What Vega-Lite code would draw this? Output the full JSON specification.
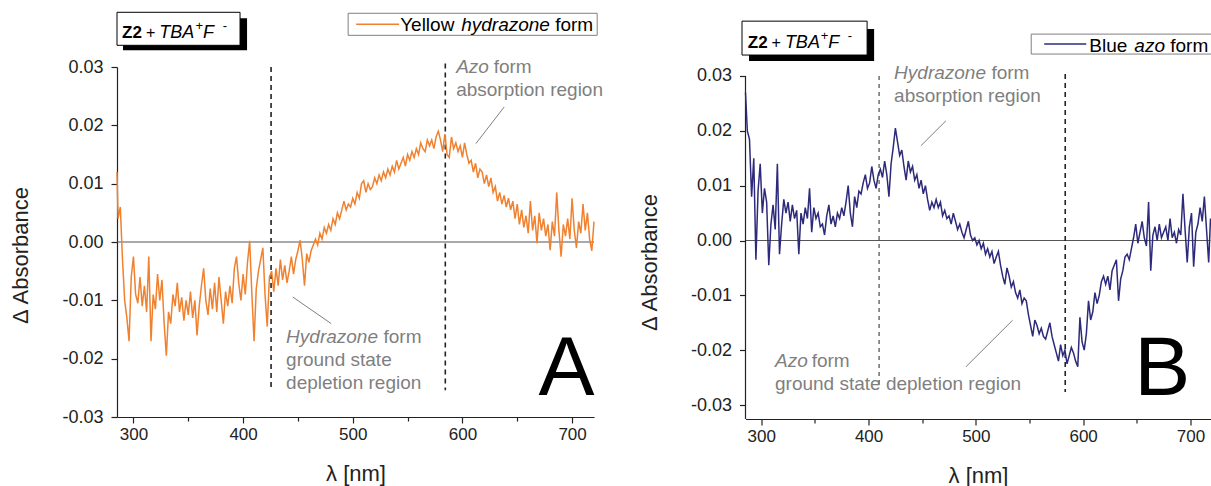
{
  "$schema": "https://vega.github.io/schema/vega-lite/v6.json",
  "background": "white",
  "padding": {"left": 9, "top": 11, "right": 0, "bottom": 0},
  "spacing": 151.5,
  "bounds": "flush",
  "config": {
    "view": {"stroke": null},
    "font": "Liberation Sans",
    "axis": {
      "grid": false,
      "labelFont": "Liberation Sans",
      "labelFontSize": 17,
      "labelColor": "#222222",
      "labelOverlap": false,
      "labelFlush": false,
      "titleFont": "Liberation Sans",
      "titleFontSize": 22,
      "titleFontWeight": "normal",
      "titleColor": "#222222",
      "domainColor": "#222222",
      "domainWidth": 1.2,
      "tickColor": "#222222",
      "tickWidth": 1.2
    }
  },
  "datasets": {
    "hydrazone": [
      {"wl":285,"dA":0.012},{"wl":286,"dA":0.004},{"wl":288,"dA":0.006},{"wl":290,"dA":-0.003},{"wl":292,"dA":-0.010},{"wl":294,"dA":-0.013},{"wl":296,"dA":-0.017},{"wl":298,"dA":-0.006},
      {"wl":300,"dA":-0.0025},{"wl":302,"dA":-0.009},{"wl":304,"dA":-0.0105},{"wl":306,"dA":-0.006},{"wl":308,"dA":-0.011},{"wl":310,"dA":-0.0075},{"wl":312,"dA":-0.012},{"wl":314,"dA":-0.0025},
      {"wl":316,"dA":-0.017},{"wl":318,"dA":-0.009},{"wl":320,"dA":-0.0115},{"wl":322,"dA":-0.0055},{"wl":324,"dA":-0.010},{"wl":326,"dA":-0.0065},{"wl":328,"dA":-0.014},{"wl":330,"dA":-0.0195},
      {"wl":332,"dA":-0.012},{"wl":334,"dA":-0.014},{"wl":336,"dA":-0.009},{"wl":338,"dA":-0.011},{"wl":340,"dA":-0.007},{"wl":342,"dA":-0.012},{"wl":344,"dA":-0.0095},{"wl":346,"dA":-0.0135},
      {"wl":348,"dA":-0.010},{"wl":350,"dA":-0.0125},{"wl":352,"dA":-0.0085},{"wl":354,"dA":-0.013},{"wl":356,"dA":-0.010},{"wl":358,"dA":-0.016},{"wl":360,"dA":-0.011},{"wl":362,"dA":-0.0075},
      {"wl":364,"dA":-0.0045},{"wl":366,"dA":-0.010},{"wl":368,"dA":-0.0125},{"wl":370,"dA":-0.008},{"wl":372,"dA":-0.0115},{"wl":374,"dA":-0.007},{"wl":376,"dA":-0.012},{"wl":378,"dA":-0.006},
      {"wl":380,"dA":-0.010},{"wl":382,"dA":-0.014},{"wl":384,"dA":-0.0085},{"wl":386,"dA":-0.011},{"wl":388,"dA":-0.0075},{"wl":390,"dA":-0.0105},{"wl":392,"dA":-0.0045},{"wl":394,"dA":-0.0025},
      {"wl":396,"dA":-0.007},{"wl":398,"dA":-0.010},{"wl":400,"dA":-0.0055},{"wl":402,"dA":-0.009},{"wl":404,"dA":-0.0035},{"wl":406,"dA":0.0002},{"wl":408,"dA":-0.009},{"wl":410,"dA":-0.017},
      {"wl":412,"dA":-0.008},{"wl":414,"dA":-0.005},{"wl":416,"dA":-0.003},{"wl":418,"dA":-0.001},{"wl":420,"dA":-0.009},{"wl":422,"dA":-0.0145},{"wl":424,"dA":-0.006},{"wl":426,"dA":-0.005},
      {"wl":428,"dA":-0.0085},{"wl":430,"dA":-0.0045},{"wl":432,"dA":-0.0075},{"wl":434,"dA":-0.003},{"wl":436,"dA":-0.0065},{"wl":438,"dA":-0.004},{"wl":440,"dA":-0.007},{"wl":442,"dA":-0.005},
      {"wl":444,"dA":-0.0025},{"wl":446,"dA":-0.0055},{"wl":448,"dA":-0.003},{"wl":450,"dA":-0.0015},{"wl":452,"dA":0.0003},{"wl":454,"dA":-0.003},{"wl":456,"dA":-0.0075},{"wl":458,"dA":-0.002},
      {"wl":460,"dA":-0.0035},{"wl":462,"dA":-0.0015},{"wl":464,"dA":-0.0005},{"wl":466,"dA":0.0005},{"wl":468,"dA":-0.0005},{"wl":470,"dA":0.0015},{"wl":472,"dA":0.0005},{"wl":474,"dA":0.0025},
      {"wl":476,"dA":0.0015},{"wl":478,"dA":0.003},{"wl":480,"dA":0.002},{"wl":482,"dA":0.004},{"wl":484,"dA":0.003},{"wl":486,"dA":0.005},{"wl":488,"dA":0.004},{"wl":490,"dA":0.0055},
      {"wl":492,"dA":0.007},{"wl":494,"dA":0.0055},{"wl":496,"dA":0.0065},{"wl":498,"dA":0.006},{"wl":500,"dA":0.0075},{"wl":502,"dA":0.0065},{"wl":504,"dA":0.0085},{"wl":506,"dA":0.0075},
      {"wl":508,"dA":0.010},{"wl":510,"dA":0.0105},{"wl":512,"dA":0.0085},{"wl":514,"dA":0.010},{"wl":516,"dA":0.009},{"wl":518,"dA":0.0095},{"wl":520,"dA":0.011},{"wl":522,"dA":0.010},
      {"wl":524,"dA":0.0115},{"wl":526,"dA":0.0105},{"wl":528,"dA":0.012},{"wl":530,"dA":0.011},{"wl":532,"dA":0.0125},{"wl":534,"dA":0.0115},{"wl":536,"dA":0.013},{"wl":538,"dA":0.012},
      {"wl":540,"dA":0.014},{"wl":542,"dA":0.0125},{"wl":544,"dA":0.0135},{"wl":546,"dA":0.0145},{"wl":548,"dA":0.013},{"wl":550,"dA":0.015},{"wl":552,"dA":0.014},{"wl":554,"dA":0.0155},
      {"wl":556,"dA":0.0145},{"wl":558,"dA":0.016},{"wl":560,"dA":0.015},{"wl":562,"dA":0.017},{"wl":564,"dA":0.016},{"wl":566,"dA":0.0155},{"wl":568,"dA":0.0175},{"wl":570,"dA":0.0165},
      {"wl":572,"dA":0.0175},{"wl":574,"dA":0.016},{"wl":576,"dA":0.018},{"wl":578,"dA":0.019},{"wl":580,"dA":0.0175},{"wl":582,"dA":0.0155},{"wl":584,"dA":0.0185},{"wl":586,"dA":0.015},
      {"wl":588,"dA":0.0145},{"wl":590,"dA":0.018},{"wl":592,"dA":0.016},{"wl":594,"dA":0.017},{"wl":596,"dA":0.0155},{"wl":598,"dA":0.0165},{"wl":600,"dA":0.0145},{"wl":602,"dA":0.017},
      {"wl":604,"dA":0.015},{"wl":606,"dA":0.0135},{"wl":608,"dA":0.014},{"wl":610,"dA":0.012},{"wl":612,"dA":0.0135},{"wl":614,"dA":0.011},{"wl":616,"dA":0.0125},{"wl":618,"dA":0.012},
      {"wl":620,"dA":0.010},{"wl":622,"dA":0.0115},{"wl":624,"dA":0.0095},{"wl":626,"dA":0.011},{"wl":628,"dA":0.0085},{"wl":630,"dA":0.0095},{"wl":632,"dA":0.007},{"wl":634,"dA":0.0085},
      {"wl":636,"dA":0.0065},{"wl":638,"dA":0.008},{"wl":640,"dA":0.006},{"wl":642,"dA":0.0075},{"wl":644,"dA":0.0055},{"wl":646,"dA":0.007},{"wl":648,"dA":0.004},{"wl":650,"dA":0.0065},
      {"wl":652,"dA":0.003},{"wl":654,"dA":0.0055},{"wl":656,"dA":0.0025},{"wl":658,"dA":0.0045},{"wl":660,"dA":0.0015},{"wl":662,"dA":0.007},{"wl":664,"dA":0.002},{"wl":666,"dA":0.0045},
      {"wl":668,"dA":-0.0002},{"wl":670,"dA":0.005},{"wl":672,"dA":0.002},{"wl":674,"dA":0.004},{"wl":676,"dA":0.001},{"wl":678,"dA":0.003},{"wl":680,"dA":-0.0014},{"wl":682,"dA":0.0035},
      {"wl":684,"dA":0.001},{"wl":686,"dA":0.0085},{"wl":688,"dA":0.002},{"wl":690,"dA":-0.0025},{"wl":692,"dA":0.003},{"wl":694,"dA":0.001},{"wl":696,"dA":0.004},{"wl":698,"dA":0.0005},
      {"wl":700,"dA":0.0075},{"wl":702,"dA":0.002},{"wl":704,"dA":-0.001},{"wl":706,"dA":0.0035},{"wl":708,"dA":0.0015},{"wl":710,"dA":0.0065},{"wl":712,"dA":0.002},{"wl":714,"dA":0.005},
      {"wl":716,"dA":0.0005},{"wl":718,"dA":-0.0015},{"wl":720,"dA":0.0035}
    ],
    "azo": [
      {"wl":285.3,"dA":0.027},{"wl":287,"dA":0.020},{"wl":289,"dA":0.0185},{"wl":291,"dA":0.008},{"wl":293,"dA":0.015},{"wl":295,"dA":-0.0035},{"wl":297,"dA":0.009},{"wl":299,"dA":0.014},
      {"wl":301,"dA":0.005},{"wl":303,"dA":0.0095},{"wl":305,"dA":0.007},{"wl":307,"dA":-0.0045},{"wl":309,"dA":0.003},{"wl":311,"dA":0.0065},{"wl":313,"dA":0.002},{"wl":315,"dA":0.014},
      {"wl":317,"dA":-0.0025},{"wl":319,"dA":0.003},{"wl":321,"dA":0.0075},{"wl":323,"dA":0.005},{"wl":325,"dA":0.007},{"wl":327,"dA":0.0035},{"wl":329,"dA":0.0065},{"wl":331,"dA":0.004},
      {"wl":333,"dA":0.0055},{"wl":335,"dA":-0.0025},{"wl":337,"dA":0.005},{"wl":339,"dA":0.003},{"wl":341,"dA":0.006},{"wl":343,"dA":0.004},{"wl":345,"dA":0.0095},{"wl":347,"dA":0.0015},
      {"wl":349,"dA":0.006},{"wl":351,"dA":0.004},{"wl":353,"dA":0.005},{"wl":355,"dA":0.0025},{"wl":357,"dA":0.003},{"wl":359,"dA":0.001},{"wl":361,"dA":0.0045},{"wl":363,"dA":0.0065},
      {"wl":365,"dA":0.003},{"wl":367,"dA":0.0045},{"wl":369,"dA":0.0025},{"wl":371,"dA":0.005},{"wl":373,"dA":0.004},{"wl":375,"dA":0.006},{"wl":377,"dA":0.0045},{"wl":379,"dA":0.007},
      {"wl":381,"dA":0.010},{"wl":383,"dA":0.005},{"wl":385,"dA":0.0025},{"wl":387,"dA":0.008},{"wl":389,"dA":0.006},{"wl":391,"dA":0.009},{"wl":393,"dA":0.0085},{"wl":395,"dA":0.0105},
      {"wl":397,"dA":0.012},{"wl":399,"dA":0.0095},{"wl":401,"dA":0.0105},{"wl":403,"dA":0.0135},{"wl":405,"dA":0.011},{"wl":407,"dA":0.0095},{"wl":409,"dA":0.012},{"wl":411,"dA":0.013},
      {"wl":413,"dA":0.0115},{"wl":415,"dA":0.0145},{"wl":417,"dA":0.012},{"wl":419,"dA":0.008},{"wl":421,"dA":0.014},{"wl":423,"dA":0.017},{"wl":425,"dA":0.0205},{"wl":427,"dA":0.018},
      {"wl":429,"dA":0.0155},{"wl":431,"dA":0.0165},{"wl":433,"dA":0.0135},{"wl":435,"dA":0.011},{"wl":437,"dA":0.0145},{"wl":439,"dA":0.0125},{"wl":441,"dA":0.0135},{"wl":443,"dA":0.011},
      {"wl":445,"dA":0.012},{"wl":447,"dA":0.0095},{"wl":449,"dA":0.011},{"wl":451,"dA":0.0085},{"wl":453,"dA":0.010},{"wl":455,"dA":0.0075},{"wl":457,"dA":0.0055},{"wl":459,"dA":0.007},
      {"wl":461,"dA":0.006},{"wl":463,"dA":0.0075},{"wl":465,"dA":0.006},{"wl":467,"dA":0.007},{"wl":469,"dA":0.0045},{"wl":471,"dA":0.0055},{"wl":473,"dA":0.004},{"wl":475,"dA":0.0045},
      {"wl":477,"dA":0.003},{"wl":479,"dA":0.005},{"wl":481,"dA":0.0035},{"wl":483,"dA":0.002},{"wl":485,"dA":0.003},{"wl":487,"dA":0.0015},{"wl":489,"dA":0.0005},{"wl":491,"dA":0.002},
      {"wl":493,"dA":0.0035},{"wl":495,"dA":0.001},{"wl":497,"dA":0.0},{"wl":499,"dA":0.0005},{"wl":501,"dA":-0.0008},{"wl":503,"dA":0.0},{"wl":505,"dA":-0.0015},{"wl":507,"dA":-0.0005},
      {"wl":509,"dA":-0.0025},{"wl":511,"dA":-0.0015},{"wl":513,"dA":-0.003},{"wl":515,"dA":-0.002},{"wl":517,"dA":-0.0042},{"wl":519,"dA":-0.003},{"wl":521,"dA":-0.002},{"wl":523,"dA":-0.0045},
      {"wl":525,"dA":-0.0065},{"wl":527,"dA":-0.008},{"wl":529,"dA":-0.005},{"wl":531,"dA":-0.0065},{"wl":533,"dA":-0.0085},{"wl":535,"dA":-0.0075},{"wl":537,"dA":-0.0095},{"wl":539,"dA":-0.0105},
      {"wl":541,"dA":-0.009},{"wl":543,"dA":-0.0115},{"wl":545,"dA":-0.0105},{"wl":547,"dA":-0.011},{"wl":549,"dA":-0.0135},{"wl":551,"dA":-0.0155},{"wl":553,"dA":-0.0175},{"wl":555,"dA":-0.0145},
      {"wl":557,"dA":-0.0155},{"wl":559,"dA":-0.017},{"wl":561,"dA":-0.016},{"wl":563,"dA":-0.0175},{"wl":565,"dA":-0.018},{"wl":567,"dA":-0.0165},{"wl":569,"dA":-0.015},{"wl":571,"dA":-0.0175},
      {"wl":573,"dA":-0.019},{"wl":575,"dA":-0.0205},{"wl":577,"dA":-0.022},{"wl":579,"dA":-0.019},{"wl":581,"dA":-0.021},{"wl":583,"dA":-0.020},{"wl":585,"dA":-0.0225},{"wl":587,"dA":-0.021},
      {"wl":589,"dA":-0.0195},{"wl":591,"dA":-0.0205},{"wl":593,"dA":-0.022},{"wl":595,"dA":-0.023},{"wl":597,"dA":-0.014},{"wl":599,"dA":-0.0185},{"wl":601,"dA":-0.020},{"wl":603,"dA":-0.017},
      {"wl":605,"dA":-0.011},{"wl":607,"dA":-0.0145},{"wl":609,"dA":-0.013},{"wl":611,"dA":-0.0095},{"wl":613,"dA":-0.0115},{"wl":615,"dA":-0.010},{"wl":617,"dA":-0.0075},{"wl":619,"dA":-0.0065},
      {"wl":621,"dA":-0.008},{"wl":623,"dA":-0.0065},{"wl":625,"dA":-0.009},{"wl":627,"dA":-0.0055},{"wl":629,"dA":-0.0045},{"wl":631,"dA":-0.0035},{"wl":633,"dA":-0.011},{"wl":635,"dA":-0.007},
      {"wl":637,"dA":-0.0055},{"wl":639,"dA":-0.003},{"wl":641,"dA":-0.0025},{"wl":643,"dA":-0.0035},{"wl":645,"dA":-0.0015},{"wl":647,"dA":0.0005},{"wl":649,"dA":0.003},{"wl":651,"dA":-0.0005},
      {"wl":653,"dA":0.0015},{"wl":655,"dA":0.0035},{"wl":657,"dA":0.0005},{"wl":659,"dA":-0.001},{"wl":661,"dA":0.007},{"wl":663,"dA":-0.0055},{"wl":665,"dA":0.001},{"wl":667,"dA":0.0025},
      {"wl":669,"dA":0.0},{"wl":671,"dA":0.003},{"wl":673,"dA":0.0005},{"wl":675,"dA":0.0015},{"wl":677,"dA":0.0025},{"wl":679,"dA":0.0},{"wl":681,"dA":0.004},{"wl":683,"dA":0.0005},
      {"wl":685,"dA":0.0015},{"wl":687,"dA":-0.0005},{"wl":689,"dA":0.002},{"wl":691,"dA":0.001},{"wl":693,"dA":0.0085},{"wl":695,"dA":0.002},{"wl":697,"dA":-0.004},{"wl":699,"dA":0.0025},
      {"wl":701,"dA":0.005},{"wl":703,"dA":-0.0048},{"wl":705,"dA":0.0015},{"wl":707,"dA":0.003},{"wl":709,"dA":0.006},{"wl":711,"dA":0.0035},{"wl":713,"dA":0.008},{"wl":715,"dA":0.002},
      {"wl":717,"dA":-0.004},{"wl":718.7,"dA":0.004}
    ]
  },
  "hconcat": [
    {
      "width": 477,
      "height": 350,
      "data": {"values": [{}]},
      "layer": [
        {
          "mark": {"type": "rule", "color": "#555555", "strokeWidth": 1},
          "encoding": {"y": {"datum": 0}}
        },
        {
          "mark": {"type": "rule", "color": "#222222", "strokeWidth": 1.6, "strokeDash": [5, 4]},
          "encoding": {"x": {"datum": 425.5}, "y": {"datum": 0.03}, "y2": {"datum": -0.0254}}
        },
        {
          "mark": {"type": "rule", "color": "#222222", "strokeWidth": 1.6, "strokeDash": [5, 4]},
          "encoding": {"x": {"datum": 584.4}, "y": {"datum": 0.0306}, "y2": {"datum": -0.0254}}
        },
        {
          "data": {"name": "hydrazone"},
          "mark": {"type": "line", "color": "#F0812F", "strokeWidth": 1.5, "interpolate": "linear"},
          "encoding": {
            "x": {
              "field": "wl", "type": "quantitative",
              "scale": {"domain": [285, 720], "nice": false, "zero": false},
              "axis": {
                "title": "λ [nm]", "values": [300, 350, 400, 450, 500, 550, 600, 650, 700],
                "labelExpr": "datum.value % 100 === 0 ? datum.label : ''",
                "tickSize": {"condition": {"test": "datum.value % 100 === 0", "value": 6}, "value": 4},
                "labelPadding": 3, "titlePadding": 21
              }
            },
            "y": {
              "field": "dA", "type": "quantitative",
              "scale": {"domain": [-0.03, 0.03], "nice": false, "zero": false},
              "axis": {
                "title": "Δ Absorbance", "titleY": 188, "labelFontSize": 18,
                "values": [-0.03, -0.025, -0.02, -0.015, -0.01, -0.005, 0, 0.005, 0.01, 0.015, 0.02, 0.025, 0.03],
                "labelExpr": "round(datum.value * 1000) % 10 === 0 ? replace(format(datum.value, '.2f'), '\u2212', '-') : ''",
                "tickSize": {"condition": {"test": "round(datum.value * 1000) % 10 === 0", "value": 6}, "value": 3},
                "labelPadding": 8, "titlePadding": 29
              }
            }
          }
        },
        {
          "mark": {"type": "rule", "color": "#7F7F7F", "strokeWidth": 1},
          "encoding": {"x": {"datum": 638.1}, "x2": {"datum": 612.3}, "y": {"datum": 0.02315}, "y2": {"datum": 0.01687}}
        },
        {
          "mark": {"type": "rule", "color": "#7F7F7F", "strokeWidth": 1},
          "encoding": {"x": {"datum": 445.3}, "x2": {"datum": 480.3}, "y": {"datum": -0.00943}, "y2": {"datum": -0.01399}}
        },
        {
          "mark": {"type": "rect", "color": "#000000"},
          "encoding": {"x": {"datum": 290.5}, "x2": {"datum": 403.6}, "y": {"datum": 0.03835}, "y2": {"datum": 0.03287}}
        },
        {
          "mark": {"type": "rect", "fill": "#FFFFFF", "stroke": "#000000", "strokeWidth": 1},
          "encoding": {"x": {"datum": 285}, "x2": {"datum": 397.2}, "y": {"datum": 0.03938}, "y2": {"datum": 0.03372}}
        },
        {
          "mark": {"type": "text", "text": "Z2", "fontSize": 17, "fontWeight": "bold", "color": "#000000", "align": "left", "baseline": "alphabetic"},
          "encoding": {"x": {"datum": 289.6}, "y": {"datum": 0.03492}}
        },
        {
          "mark": {"type": "text", "text": "+", "fontSize": 16, "color": "#000000", "align": "left", "baseline": "alphabetic"},
          "encoding": {"x": {"datum": 311.5}, "y": {"datum": 0.03492}}
        },
        {
          "mark": {"type": "text", "text": "TBA", "fontSize": 18, "fontStyle": "italic", "color": "#000000", "align": "left", "baseline": "alphabetic"},
          "encoding": {"x": {"datum": 323.5}, "y": {"datum": 0.03492}}
        },
        {
          "mark": {"type": "text", "text": "+", "fontSize": 13, "color": "#000000", "align": "left", "baseline": "alphabetic"},
          "encoding": {"x": {"datum": 356.5}, "y": {"datum": 0.03629}}
        },
        {
          "mark": {"type": "text", "text": "F", "fontSize": 18, "fontStyle": "italic", "color": "#000000", "align": "left", "baseline": "alphabetic"},
          "encoding": {"x": {"datum": 363.5}, "y": {"datum": 0.03492}}
        },
        {
          "mark": {"type": "text", "text": "-", "fontSize": 13, "color": "#000000", "align": "left", "baseline": "alphabetic"},
          "encoding": {"x": {"datum": 381.5}, "y": {"datum": 0.03629}}
        },
        {
          "mark": {"type": "rect", "fill": "#FFFFFF", "stroke": "#808080", "strokeWidth": 1},
          "encoding": {"x": {"datum": 495.8}, "x2": {"datum": 722.9}, "y": {"datum": 0.03921}, "y2": {"datum": 0.03543}}
        },
        {
          "mark": {"type": "rule", "color": "#F0812F", "strokeWidth": 1.5},
          "encoding": {"x": {"datum": 503.1}, "x2": {"datum": 542.3}, "y": {"datum": 0.03732}}
        },
        {
          "mark": {"type": "text", "text": "Yellow", "fontSize": 19, "color": "#000000", "align": "left", "baseline": "alphabetic"},
          "encoding": {"x": {"datum": 543.2}, "y": {"datum": 0.03612}}
        },
        {
          "mark": {"type": "text", "text": "hydrazone", "fontSize": 19, "fontStyle": "italic", "color": "#000000", "align": "left", "baseline": "alphabetic"},
          "encoding": {"x": {"datum": 598.9}, "y": {"datum": 0.03612}}
        },
        {
          "mark": {"type": "text", "text": "form", "fontSize": 19, "color": "#000000", "align": "left", "baseline": "alphabetic"},
          "encoding": {"x": {"datum": 684.6}, "y": {"datum": 0.03612}}
        },
        {
          "mark": {"type": "text", "text": "Azo", "fontSize": 19, "fontStyle": "italic", "color": "#7F7F7F", "align": "left", "baseline": "alphabetic"},
          "encoding": {"x": {"datum": 594.3}, "y": {"datum": 0.02892}}
        },
        {
          "mark": {"type": "text", "text": "form", "fontSize": 19, "color": "#7F7F7F", "align": "left", "baseline": "alphabetic"},
          "encoding": {"x": {"datum": 628.5}, "y": {"datum": 0.02892}}
        },
        {
          "mark": {"type": "text", "text": "absorption region", "fontSize": 19, "color": "#7F7F7F", "align": "left", "baseline": "alphabetic"},
          "encoding": {"x": {"datum": 594.3}, "y": {"datum": 0.02498}}
        },
        {
          "mark": {"type": "text", "text": "Hydrazone", "fontSize": 19, "fontStyle": "italic", "color": "#7F7F7F", "align": "left", "baseline": "alphabetic"},
          "encoding": {"x": {"datum": 439.2}, "y": {"datum": -0.01737}}
        },
        {
          "mark": {"type": "text", "text": "form", "fontSize": 19, "color": "#7F7F7F", "align": "left", "baseline": "alphabetic"},
          "encoding": {"x": {"datum": 528.0}, "y": {"datum": -0.01737}}
        },
        {
          "mark": {"type": "text", "text": "ground state", "fontSize": 19, "color": "#7F7F7F", "align": "left", "baseline": "alphabetic"},
          "encoding": {"x": {"datum": 439.2}, "y": {"datum": -0.02131}}
        },
        {
          "mark": {"type": "text", "text": "depletion region", "fontSize": 19, "color": "#7F7F7F", "align": "left", "baseline": "alphabetic"},
          "encoding": {"x": {"datum": 439.2}, "y": {"datum": -0.02525}}
        },
        {
          "mark": {"type": "text", "text": "A", "fontSize": 84, "color": "#000000", "align": "center", "baseline": "alphabetic"},
          "encoding": {"x": {"datum": 695.0}, "y": {"datum": -0.02628}}
        }
      ]
    },
    {
      "width": 465,
      "height": 352,
      "data": {"values": [{}]},
      "layer": [
        {
          "mark": {"type": "rule", "color": "#555555", "strokeWidth": 1},
          "encoding": {"y": {"datum": 0}}
        },
        {
          "mark": {"type": "rule", "color": "#222222", "strokeWidth": 1.2},
          "encoding": {"x": {"datum": 285.3}, "y": {"datum": 0.03}, "y2": {"datum": -0.03255}}
        },
        {
          "mark": {"type": "rule", "color": "#222222", "strokeWidth": 1, "strokeDash": [4, 4]},
          "encoding": {"x": {"datum": 409.8}, "y": {"datum": 0.03}, "y2": {"datum": -0.02636}}
        },
        {
          "mark": {"type": "rule", "color": "#222222", "strokeWidth": 1.6, "strokeDash": [5, 4]},
          "encoding": {"x": {"datum": 583.3}, "y": {"datum": 0.03036}, "y2": {"datum": -0.02764}}
        },
        {
          "data": {"name": "azo"},
          "mark": {"type": "line", "color": "#2D2A7B", "strokeWidth": 1.5, "interpolate": "linear"},
          "encoding": {
            "x": {
              "field": "wl", "type": "quantitative",
              "scale": {"domain": [285.3, 718.7], "nice": false, "zero": false},
              "axis": {
                "title": "λ [nm]", "values": [300, 350, 400, 450, 500, 550, 600, 650, 700],
                "labelExpr": "datum.value % 100 === 0 ? datum.label : ''",
                "tickSize": {"condition": {"test": "datum.value % 100 === 0", "value": 6}, "value": 4},
                "labelPadding": 3, "titlePadding": 21
              }
            },
            "y": {
              "field": "dA", "type": "quantitative",
              "scale": {"domain": [-0.03255, 0.03164], "nice": false, "zero": false},
              "axis": {
                "title": "Δ Absorbance", "titleY": 195, "labelFontSize": 18, "domain": false,
                "values": [-0.03, -0.025, -0.02, -0.015, -0.01, -0.005, 0, 0.005, 0.01, 0.015, 0.02, 0.025, 0.03],
                "labelExpr": "round(datum.value * 1000) % 10 === 0 ? replace(format(datum.value, '.2f'), '\u2212', '-') : ''",
                "tickSize": {"condition": {"test": "round(datum.value * 1000) % 10 === 0", "value": 6}, "value": 3},
                "labelPadding": 8, "titlePadding": 29
              }
            }
          }
        },
        {
          "mark": {"type": "rule", "color": "#7F7F7F", "strokeWidth": 1},
          "encoding": {"x": {"datum": 472.05}, "x2": {"datum": 448.73}, "y": {"datum": 0.02182}, "y2": {"datum": 0.01727}}
        },
        {
          "mark": {"type": "rule", "color": "#7F7F7F", "strokeWidth": 1},
          "encoding": {"x": {"datum": 490.7}, "x2": {"datum": 534.2}, "y": {"datum": -0.02304}, "y2": {"datum": -0.01455}}
        },
        {
          "mark": {"type": "rect", "color": "#000000"},
          "encoding": {"x": {"datum": 288.56}, "x2": {"datum": 405.17}, "y": {"datum": 0.03855}, "y2": {"datum": 0.03273}}
        },
        {
          "mark": {"type": "rect", "fill": "#FFFFFF", "stroke": "#000000", "strokeWidth": 1},
          "encoding": {"x": {"datum": 282.04}, "x2": {"datum": 398.64}, "y": {"datum": 0.0400}, "y2": {"datum": 0.03382}}
        },
        {
          "mark": {"type": "text", "text": "Z2", "fontSize": 17, "fontWeight": "bold", "color": "#000000", "align": "left", "baseline": "alphabetic"},
          "encoding": {"x": {"datum": 287.5}, "y": {"datum": 0.03509}}
        },
        {
          "mark": {"type": "text", "text": "+", "fontSize": 16, "color": "#000000", "align": "left", "baseline": "alphabetic"},
          "encoding": {"x": {"datum": 309.5}, "y": {"datum": 0.03509}}
        },
        {
          "mark": {"type": "text", "text": "TBA", "fontSize": 18, "fontStyle": "italic", "color": "#000000", "align": "left", "baseline": "alphabetic"},
          "encoding": {"x": {"datum": 322.0}, "y": {"datum": 0.03509}}
        },
        {
          "mark": {"type": "text", "text": "+", "fontSize": 13, "color": "#000000", "align": "left", "baseline": "alphabetic"},
          "encoding": {"x": {"datum": 355.5}, "y": {"datum": 0.03655}}
        },
        {
          "mark": {"type": "text", "text": "F", "fontSize": 18, "fontStyle": "italic", "color": "#000000", "align": "left", "baseline": "alphabetic"},
          "encoding": {"x": {"datum": 362.5}, "y": {"datum": 0.03509}}
        },
        {
          "mark": {"type": "text", "text": "-", "fontSize": 13, "color": "#000000", "align": "left", "baseline": "alphabetic"},
          "encoding": {"x": {"datum": 380.5}, "y": {"datum": 0.03655}}
        },
        {
          "mark": {"type": "rect", "fill": "#FFFFFF", "stroke": "#808080", "strokeWidth": 1},
          "encoding": {"x": {"datum": 551.6}, "x2": {"datum": 724.0}, "y": {"datum": 0.03764}, "y2": {"datum": 0.0340}}
        },
        {
          "mark": {"type": "rule", "color": "#2D2A7B", "strokeWidth": 1.5},
          "encoding": {"x": {"datum": 563.7}, "x2": {"datum": 602.9}, "y": {"datum": 0.03582}}
        },
        {
          "mark": {"type": "text", "text": "Blue", "fontSize": 19, "color": "#000000", "align": "left", "baseline": "alphabetic"},
          "encoding": {"x": {"datum": 605.7}, "y": {"datum": 0.03440}}
        },
        {
          "mark": {"type": "text", "text": "azo", "fontSize": 19, "fontStyle": "italic", "color": "#000000", "align": "left", "baseline": "alphabetic"},
          "encoding": {"x": {"datum": 647.7}, "y": {"datum": 0.03440}}
        },
        {
          "mark": {"type": "text", "text": "form", "fontSize": 19, "color": "#000000", "align": "left", "baseline": "alphabetic"},
          "encoding": {"x": {"datum": 681.2}, "y": {"datum": 0.03440}}
        },
        {
          "mark": {"type": "text", "text": "Hydrazone", "fontSize": 19, "fontStyle": "italic", "color": "#7F7F7F", "align": "left", "baseline": "alphabetic"},
          "encoding": {"x": {"datum": 423.8}, "y": {"datum": 0.02945}}
        },
        {
          "mark": {"type": "text", "text": "form", "fontSize": 19, "color": "#7F7F7F", "align": "left", "baseline": "alphabetic"},
          "encoding": {"x": {"datum": 514.5}, "y": {"datum": 0.02945}}
        },
        {
          "mark": {"type": "text", "text": "absorption region", "fontSize": 19, "color": "#7F7F7F", "align": "left", "baseline": "alphabetic"},
          "encoding": {"x": {"datum": 423.8}, "y": {"datum": 0.02527}}
        },
        {
          "mark": {"type": "text", "text": "Azo", "fontSize": 19, "fontStyle": "italic", "color": "#7F7F7F", "align": "left", "baseline": "alphabetic"},
          "encoding": {"x": {"datum": 312.8}, "y": {"datum": -0.02309}}
        },
        {
          "mark": {"type": "text", "text": "form", "fontSize": 19, "color": "#7F7F7F", "align": "left", "baseline": "alphabetic"},
          "encoding": {"x": {"datum": 347.0}, "y": {"datum": -0.02309}}
        },
        {
          "mark": {"type": "text", "text": "ground state depletion region", "fontSize": 19, "color": "#7F7F7F", "align": "left", "baseline": "alphabetic"},
          "encoding": {"x": {"datum": 312.8}, "y": {"datum": -0.02727}}
        },
        {
          "mark": {"type": "text", "text": "B", "fontSize": 84, "color": "#000000", "align": "left", "baseline": "alphabetic"},
          "encoding": {"x": {"datum": 647.6}, "y": {"datum": -0.02818}}
        }
      ]
    }
  ]
}
